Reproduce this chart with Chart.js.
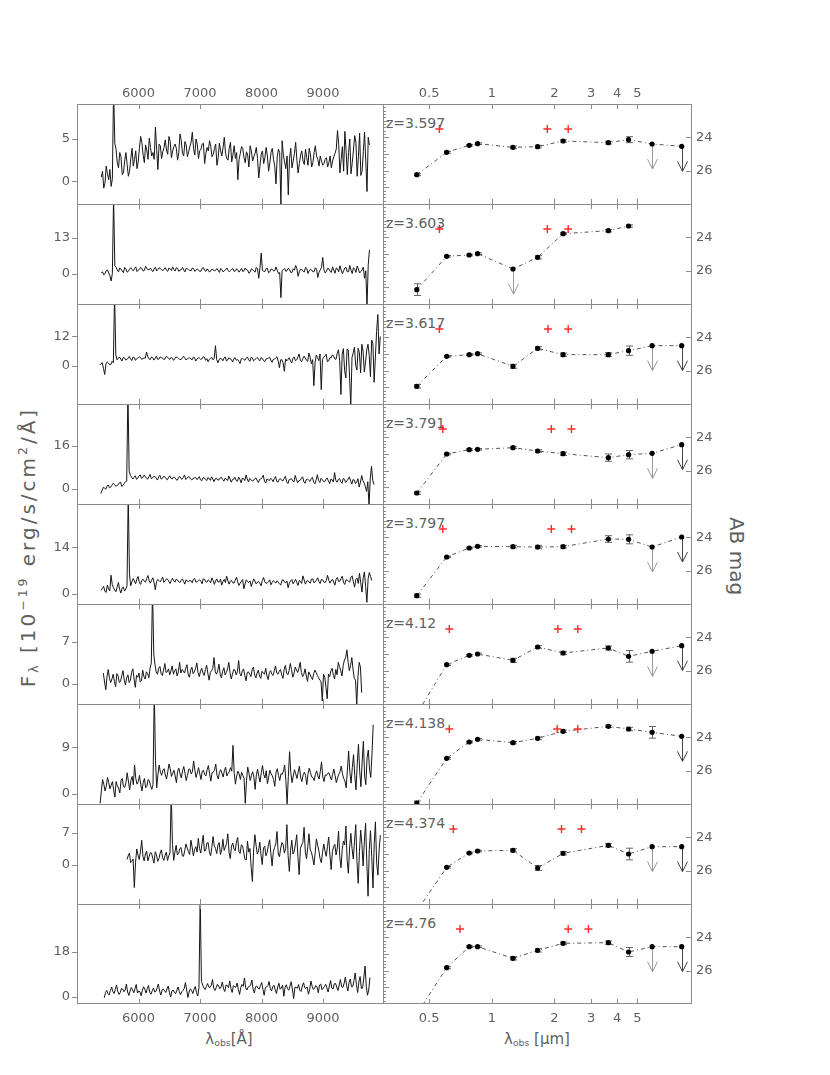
<!DOCTYPE html>
<html>
<head>
<meta charset="utf-8">
<title>Spectra and SEDs</title>
<script src="https://cdn.jsdelivr.net/npm/chart.js@4.4.1/dist/chart.umd.min.js"></script>
<style>
html,body{margin:0;padding:0;background:#fff;}
#wrap{position:relative;width:830px;height:1075px;overflow:hidden;font-family:"DejaVu Sans",sans-serif;color:#5f5f5f;}
#wrap canvas{position:absolute;z-index:2;}
.lbl{position:absolute;white-space:nowrap;z-index:1;}
.sub{font-size:0.62em;vertical-align:-0.3em;}
.sup{font-size:0.62em;vertical-align:0.65em;}
</style>
</head>
<body>
<div id="wrap"></div>
<script>
// ---------------- DATA ----------------
const Z_LABELS = ['z=3.597','z=3.603','z=3.617','z=3.791','z=3.797','z=4.12','z=4.138','z=4.374','z=4.76'];

// spectra: samples on a 40 A grid starting at SPEC_START, plus the samples lying midway (MID arrays)
const SPEC_START = [5395, 5395, 5371, 5388, 5393, 5428, 5376, 5812, 5443];
const SPEC_STEP = 40;

const SPEC_1 = [0.5,-0.8,1.8,0.2,-0.6,
 11,
 3.8,1.6,2.9,1.0,3.4,0.6,2.7,1.8,3.6,2.3,
 5.3,3.1,4.3,2.6,4.0,3.4,6.4,1.4,4.2,3.5,
 4.9,3.2,4.7,3.6,4.4,2.5,5.6,3.3,4.7,2.9,
 4.1,5.8,3.1,4.4,3.6,4.4,2.1,4.0,4.8,2.9,
 3.9,1.9,4.5,3.0,5.2,2.7,3.9,2.3,4.2,3.4,
 2.6,4.1,2.8,3.5,1.7,3.6,2.9,4.0,0.4,3.2,
 2.1,4.0,1.2,3.4,2.6,-0.3,3.8,-2.7,3.1,1.5,
 -1.6,3.9,2.4,4.6,1.0,3.1,2.4,3.8,1.9,3.2,
 2.2,4.2,2.6,3.0,1.9,2.6,1.7,3.0,2.4,3.3,
 6.0,1.0,4.1,5.9,0.8,5.0,2.2,5.4,0.6,5.7,1.2,5.8,-1.2,4.3];
const SPEC_1_MID = [1.2,-0.2,0.9,1.4,
 0.3,4.5,
 2.2,3.4,0.8,2.4,2.0,1.2,3.9,2.6,1.5,
 3.9,4.6,2.2,3.7,5.1,3.0,2.6,3.8,4.4,2.7,
 4.0,3.7,5.3,2.8,4.1,3.9,3.4,4.8,3.0,4.3,
 3.5,4.6,3.9,5.0,2.7,3.8,4.5,3.3,3.6,4.1,
 3.2,4.4,2.8,3.6,4.0,3.3,2.5,4.6,3.1,2.7,
 0.2,3.3,3.9,2.2,3.1,4.2,2.4,3.3,2.7,1.9,
 3.6,2.8,3.0,2.2,3.9,1.8,2.9,3.4,4.8,2.3,
 3.0,2.7,1.6,3.3,2.5,2.1,3.6,2.0,2.8,3.9,
 1.7,3.4,3.0,1.8,2.4,2.1,2.8,2.2,1.6,2.9,
 3.8,4.4,2.6,1.2,3.6,3.4,0.9,3.7,4.6,2.9,0.7,3.5,2.4,5.2];

const SPEC_2 = [0.5,-0.3,1.2,0.4,-2.5,
 28,
 2.5,0.8,1.8,0.5,1.9,1.0,2.3,1.2,2.6,1.4,
 2.4,1.1,2.8,1.5,2.2,0.9,2.5,1.6,2.0,1.2,
 2.3,1.0,1.9,2.6,1.1,2.1,1.4,2.4,0.8,1.9,
 1.3,2.2,1.0,1.8,0.9,2.1,1.3,1.9,0.7,1.8,
 1.1,2.0,0.6,1.6,1.2,2.2,0.8,1.7,1.0,1.9,
 0.7,2.1,1.2,1.5,0.3,1.9,1.1,2.4,-1.5,7.6,
 1.0,2.0,0.5,1.8,1.1,2.6,0.2,-8.5,1.6,1.0,
 2.1,0.6,1.9,3.1,-0.8,1.8,1.2,2.4,0.2,1.7,
 0.8,2.3,-1.2,1.5,6.0,0.4,2.1,1.0,2.6,0.3,
 1.9,3.0,0.1,2.2,0.8,3.1,0.2,1.7,2.9,0.4,1.5,-1.5,-11.5,8.7];
const SPEC_2_MID = [0.8,0.1,1.5,-0.6,
 0.2,3.0,
 1.4,2.2,1.1,2.4,0.7,1.8,1.6,2.0,0.9,
 1.7,2.0,1.3,2.1,1.6,1.3,1.9,1.1,2.3,1.5,
 1.8,1.4,2.2,1.3,1.7,2.3,1.0,1.6,1.5,2.1,
 1.6,1.2,2.0,1.4,1.5,1.1,2.3,1.0,1.4,1.2,
 1.6,1.4,1.3,2.0,0.8,1.5,1.4,1.2,2.0,1.1,
 1.5,1.3,0.9,2.2,1.4,0.8,1.6,0.7,1.9,2.4,
 1.3,0.9,2.1,0.8,1.7,1.2,1.4,0.6,1.2,2.0,
 1.3,1.6,0.6,1.4,2.0,0.9,1.6,0.7,2.1,1.2,
 1.5,0.9,1.8,0.7,2.4,1.6,1.0,1.9,0.6,1.4,
 2.2,0.8,1.5,1.2,2.4,0.9,1.4,2.3,0.6,1.8,0.9,2.5,1.2,3.4];

const SPEC_3 = [0.3,1.2,-3.6,1.6,0.4,1.8,
 30,
 2.4,3.6,1.9,3.2,2.5,3.8,2.1,3.4,2.9,3.7,
 2.6,3.2,5.6,2.8,3.6,2.3,3.9,2.7,3.3,2.5,
 3.8,2.9,3.4,2.2,3.6,3.0,2.6,3.9,2.4,3.1,
 2.8,3.5,1.9,3.3,2.6,3.7,2.2,1.6,3.0,2.4,
 8.2,
 1.2,3.1,2.0,3.6,2.4,2.8,1.5,3.3,2.6,0.9,
 3.0,2.2,3.6,1.8,3.2,2.5,3.4,2.0,3.1,1.6,
 2.9,3.5,1.4,2.7,3.7,-0.8,2.5,-2.3,2.0,3.3,
 1.1,3.6,2.4,4.8,1.6,3.9,2.2,5.2,0.8,-8.2,
 4.4,2.1,-9.8,3.5,4.7,2.0,3.2,4.1,2.6,6.5,
 -11.8,7.0,-5.0,6.4,-17,5.3,0.2,7.2,-3.0,6.0,
 1.5,8.8,-4.5,9.0,3.5,21,12];
const SPEC_3_MID = [0.9,-1.2,0.8,1.1,0.5,
 1.2,4.5,
 3.0,2.7,3.3,2.4,3.1,2.8,3.5,2.2,3.2,
 3.4,2.9,3.1,3.7,2.5,3.3,3.0,2.6,3.6,3.2,
 2.8,3.5,2.6,3.1,2.9,3.4,2.5,3.0,3.3,2.7,
 3.2,2.4,3.3,2.7,3.1,2.8,3.5,2.9,2.6,3.4,
 3.0,2.6,
 2.4,2.8,3.2,1.9,3.3,2.5,2.9,2.2,1.8,2.8,
 2.6,3.1,2.4,3.4,2.0,2.9,2.6,3.3,2.2,2.7,
 3.1,2.3,2.6,3.2,1.9,2.4,1.2,2.8,2.6,1.9,
 3.0,2.0,3.5,2.2,2.9,3.1,1.8,3.4,2.5,1.4,
 3.3,4.8,2.6,3.9,1.6,3.3,4.4,2.8,5.1,2.0,
 4.6,-2.0,6.8,-4.2,3.4,7.6,-1.8,5.3,8.8,-2.6,
 6.6,4.2,10.5,-6.8,14,4.8];

const SPEC_4 = [-1.8,0.5,-0.2,1.4,0.6,2.0,0.9,1.5,2.4,1.2,2.6,
 36,
 5.0,3.6,4.8,3.9,5.2,4.1,4.6,3.5,5.3,4.0,
 4.5,3.2,5.0,3.8,4.4,3.3,4.8,3.6,4.2,3.1,
 4.6,3.5,5.1,3.9,4.3,3.2,4.0,3.4,4.5,2.9,
 4.1,3.0,3.8,4.4,2.6,3.9,3.3,4.2,2.8,3.6,
 4.7,2.4,3.5,3.0,4.3,2.2,3.8,5.1,2.5,3.4,
 3.0,4.0,2.3,3.6,5.0,2.1,3.3,3.9,2.6,4.5,
 2.4,3.7,2.9,4.6,1.9,3.5,2.8,4.9,2.2,3.1,
 4.4,2.0,3.6,2.7,4.2,1.8,5.2,2.3,3.4,2.6,
 4.0,1.9,3.3,6.0,2.4,3.8,2.0,3.5,2.9,4.4,
 1.7,3.2,2.5,0.6,4.9,2.1,-1.0,-6.5,8.3,1.5];
const SPEC_4_MID = [-0.6,0.2,0.9,0.3,1.3,1.6,1.1,2.2,0.8,1.9,
 2.8,6.5,
 4.3,4.2,3.5,4.7,3.8,5.0,3.9,4.4,3.7,4.6,
 3.9,4.4,3.6,4.6,3.7,4.1,3.9,4.3,3.5,4.0,
 3.8,4.2,3.4,4.5,3.6,3.9,4.2,3.7,3.3,4.0,
 3.5,4.1,3.1,3.6,3.7,3.2,4.0,3.4,3.9,3.0,
 3.6,3.4,4.2,2.7,3.5,3.9,3.0,3.6,3.8,2.9,
 3.7,3.1,3.4,4.1,2.8,3.6,3.0,3.4,3.8,2.7,
 3.5,3.1,3.8,2.6,3.3,3.7,2.5,3.4,3.0,3.9,
 2.6,3.4,3.1,3.8,2.4,3.3,3.0,3.9,2.7,3.5,
 2.8,3.6,2.5,3.1,3.4,2.6,3.8,2.3,3.6,2.9,
 3.4,1.9,3.7,2.4,3.0,0.8,2.6,3.9,3.2];

const SPEC_5 = [1.0,2.2,0.4,1.5,5.6,1.8,0.6,3.4,0.2,2.0,1.4,
 30,
 2.4,4.6,3.0,5.2,2.8,4.4,3.5,5.5,3.2,4.8,
 1.2,4.3,3.6,5.0,3.9,4.4,3.1,4.7,3.5,4.2,
 3.4,4.5,2.9,3.8,4.1,3.3,4.6,3.6,4.2,3.0,
 4.4,3.5,3.9,4.8,2.8,4.5,3.6,2.6,4.3,5.3,
 2.9,4.0,3.2,5.0,2.5,3.8,1.5,4.2,3.4,2.2,
 4.5,3.0,3.7,2.4,4.9,3.1,3.6,2.7,4.0,3.2,
 3.5,2.6,4.2,3.3,1.8,3.9,3.0,4.4,2.5,3.7,
 5.4,2.9,4.0,3.2,4.5,3.6,4.8,3.1,4.2,3.4,
 5.6,3.2,4.4,2.6,4.9,3.8,5.3,2.8,4.1,3.5,
 5.4,2.0,4.7,6.2,0.5,6.6,-2.6,6.4,4.0];
const SPEC_5_MID = [1.6,0.8,2.6,0.9,2.8,1.1,2.0,1.3,1.7,0.8,
 2.4,6.0,
 3.6,3.9,4.4,3.5,4.0,3.8,4.6,3.9,4.1,3.4,
 3.6,4.0,4.3,3.4,4.5,3.7,4.0,3.9,4.4,3.6,
 4.0,3.7,4.2,3.6,3.9,4.4,3.5,4.0,3.8,4.5,
 3.6,4.2,3.3,4.0,3.9,3.5,4.4,3.7,3.4,3.9,
 3.8,3.3,4.1,3.6,3.2,4.3,3.0,3.7,3.9,3.3,
 3.8,3.5,3.1,4.0,3.6,3.3,4.2,3.4,3.6,3.9,
 3.0,4.1,3.5,3.8,3.2,4.3,3.6,3.4,4.0,3.1,
 4.2,3.8,3.5,4.4,3.3,4.1,3.7,4.3,3.5,4.0,
 4.1,3.9,3.5,4.4,3.7,4.6,3.4,4.2,3.8,4.9,
 3.6,4.3,3.1,3.4,4.8,2.1,4.5,5.2];

const SPEC_6 = [1.8,-1.0,2.4,0.2,1.6,-0.5,1.3,0.4,2.2,-0.2,
 1.5,0.6,2.5,-0.6,1.1,0.3,2.3,0.8,1.7,2.6,
 16,
 3.2,1.6,2.9,1.4,3.4,2.0,1.5,3.0,2.2,1.3,
 3.6,2.4,1.8,3.2,1.1,2.8,2.0,3.5,1.2,2.6,
 1.4,3.1,0.6,2.2,4.4,1.6,3.3,1.0,2.7,1.9,
 3.6,0.8,2.4,1.5,3.9,1.3,2.5,0.5,2.0,1.2,
 2.8,1.0,2.3,0.9,1.8,2.6,0.7,2.2,1.4,3.0,
 1.6,2.4,0.9,3.1,1.5,3.4,1.1,2.8,1.9,3.6,
 1.2,2.5,0.4,1.6,0.7,2.3,1.4,0.6,-2.9,1.1,
 -2.5,1.2,2.6,0.8,1.5,2.9,1.3,4.0,5.7,2.2,
 4.4,0.9,-3.5,3.6,-1.5];
const SPEC_6_MID = [0.3,1.2,0.9,0.8,0.4,1.7,0.2,1.4,0.6,1.0,
 0.2,1.9,0.8,1.4,1.8,0.5,1.2,2.0,1.0,
 3.5,5.0,
 2.0,2.6,1.7,2.3,1.9,2.5,2.2,1.6,2.5,2.0,
 1.8,2.2,2.6,1.5,2.3,1.7,2.6,1.9,2.1,1.8,
 2.4,1.7,1.9,2.6,2.0,2.2,1.6,2.1,1.5,2.5,
 1.9,1.6,2.3,2.0,1.7,2.2,1.4,1.9,1.6,2.4,
 1.5,1.8,1.3,2.1,1.6,1.3,1.9,1.6,2.2,1.8,
 2.1,1.5,2.4,1.8,2.2,2.4,1.7,2.3,2.6,1.9,
 1.6,1.3,2.0,1.1,1.7,1.9,1.0,0.4,1.6,-0.6,
 1.6,2.2,1.4,2.4,3.6,2.2,3.1,4.4,3.6,3.1,
 2.4,0.6,1.2,2.8];

const SPEC_7 = [-1.8,2.8,0.6,3.2,1.0,2.4,-0.6,1.6,0.2,3.0,
 1.3,4.1,0.8,3.4,5.6,1.9,3.6,0.6,3.0,1.5,2.6,0.9,
 20,
 1.2,5.6,3.6,4.9,2.9,5.8,3.4,4.6,2.2,5.0,
 3.1,5.3,2.6,4.8,3.9,6.4,3.2,5.1,2.8,4.6,
 3.5,5.5,2.5,4.2,5.8,2.9,4.7,3.3,5.2,4.0,
 5.1,9.4,1.9,4.4,2.8,3.6,-1.8,5.2,2.6,4.3,
 0.9,4.8,2.3,5.5,3.1,2.0,4.6,3.5,1.5,4.9,
 2.6,3.8,5.6,-1.9,8.2,2.2,4.7,3.0,5.4,2.4,
 4.2,1.8,5.0,3.3,2.6,4.5,2.9,6.2,2.4,3.6,
 4.1,2.7,4.8,2.2,3.8,5.4,3.0,1.2,8.3,2.1,
 7.6,0.8,9.6,1.4,10.2,1.8,8.5,3.2,13.4];
const SPEC_7_MID = [0.6,1.9,1.5,2.2,1.7,0.8,2.4,1.1,2.6,1.4,
 2.2,2.5,2.6,1.8,3.0,2.4,1.9,2.2,1.2,2.8,1.6,
 1.8,6.5,
 3.8,4.2,4.6,3.7,4.3,4.9,4.0,3.5,4.4,3.9,
 4.5,4.0,3.6,4.8,4.3,4.6,4.1,3.9,4.4,3.8,
 4.7,3.9,4.1,4.6,3.6,4.2,4.0,4.5,3.5,4.3,
 4.4,4.0,3.5,3.9,4.2,3.0,2.6,4.0,3.6,3.2,
 3.7,3.4,4.1,3.8,4.5,3.3,3.9,2.8,4.2,3.6,
 3.9,4.4,2.6,3.4,4.1,3.5,3.9,4.2,3.2,3.7,
 3.6,3.9,4.1,3.2,3.8,3.5,4.4,3.3,3.7,4.0,
 3.4,3.8,3.6,3.1,4.3,3.9,2.5,4.6,4.2,5.1,
 3.6,5.8,4.4,6.2,3.5,7.0,4.8,7.8];

const SPEC_8 = [1.2,2.6,0.8,-4.9,3.5,1.2,5.4,0.9,3.0,1.8,
 2.6,0.4,2.2,1.4,3.3,1.0,2.8,2.0,
 16,
 1.0,4.3,2.5,3.8,1.9,4.6,2.9,5.4,2.0,4.0,
 5.8,2.6,6.5,3.2,4.9,2.0,6.2,3.6,4.4,2.3,
 5.6,3.9,6.8,1.4,4.8,3.1,6.0,2.5,4.2,1.2,
 5.2,3.6,-3.6,6.6,2.4,5.0,0.1,4.1,2.7,5.5,
 -0.2,3.8,7.3,1.8,4.9,2.6,8.8,-1.4,5.4,3.0,
 6.6,-2.1,4.4,8.2,1.4,6.8,2.8,0.0,5.7,3.1,
 0.5,4.6,1.9,6.1,-1.0,4.0,2.2,7.4,-0.6,5.2,
 8.5,-1.8,6.9,1.3,8.8,-4.0,7.6,-0.2,9.1,-6.8,
 7.5,-5.0,9.4,-2.2,6.5];
const SPEC_8_MID = [2.0,0.5,1.3,0.6,2.2,3.0,1.9,2.4,0.9,2.7,
 1.4,2.9,0.8,2.6,1.6,2.1,1.0,
 2.6,4.5,
 2.8,2.2,3.6,2.0,3.2,3.7,2.3,3.9,3.4,2.8,
 3.6,4.6,3.0,4.8,2.9,3.8,4.2,2.5,4.9,3.3,
 3.2,4.7,2.8,4.1,3.5,5.0,3.0,4.4,2.6,1.1,
 2.8,-0.6,3.3,4.2,3.1,2.2,3.8,2.0,4.4,2.6,
 2.9,4.6,2.4,3.7,4.4,3.6,2.1,3.2,2.4,4.6,
 1.8,3.6,4.9,2.8,4.0,3.3,1.5,2.6,4.3,1.4,
 2.7,3.1,4.0,2.2,2.9,4.5,3.7,1.8,3.4,4.4,
 1.0,3.7,3.6,5.2,0.8,2.9,4.5,5.2,0.6,3.4,
 1.8,4.6,0.4,3.3];

const SPEC_9 = [-0.5,2.4,0.6,3.8,1.2,4.6,0.8,3.2,1.9,5.0,
 0.4,3.6,1.5,4.8,2.2,0.3,3.9,1.4,4.4,0.9,
 3.4,2.0,5.0,0.6,3.0,1.6,4.2,-0.2,2.6,1.1,
 3.8,0.7,2.4,5.6,-0.4,3.1,1.2,4.0,0.2,
 40,
 4.6,2.8,5.2,3.6,6.8,2.4,4.9,3.1,5.8,2.0,
 4.4,6.2,1.6,3.9,5.4,0.8,4.8,7.4,2.6,4.0,
 6.6,1.4,4.2,3.0,5.6,0.5,3.8,6.0,2.2,4.5,
 1.2,5.3,3.4,0.1,4.7,2.5,5.9,-0.8,3.6,4.8,
 2.0,5.5,3.2,0.9,6.2,2.8,4.4,1.5,5.0,3.3,
 4.9,1.8,6.4,3.0,5.2,2.4,6.8,3.6,7.8,2.2,
 7.0,4.0,9.4,1.6,8.0,3.4,12.2,0.5,7.6];
const SPEC_9_MID = [1.5,1.2,2.4,2.0,2.8,2.1,1.6,3.0,2.6,1.8,
 2.2,2.7,3.1,1.4,1.9,2.5,2.8,3.2,1.6,2.3,
 1.8,3.5,2.1,2.6,2.3,3.0,1.5,2.2,1.7,2.5,
 2.0,1.9,3.2,2.6,1.8,2.4,2.9,1.6,
 3.6,6.0,
 3.4,4.0,3.8,4.5,3.3,3.6,4.2,3.9,3.1,4.6,
 3.5,3.2,4.4,3.7,2.9,3.6,4.1,3.4,3.8,4.6,
 3.0,3.9,3.3,4.4,2.8,3.6,4.3,3.1,3.9,2.7,
 3.8,2.9,4.5,3.6,3.1,4.2,2.6,3.7,3.3,2.5,
 4.2,3.5,3.8,2.9,4.1,3.4,3.8,4.6,2.7,4.0,
 3.5,4.2,3.4,5.1,3.8,4.6,3.9,5.3,4.4,5.6,
 3.9,6.4,4.8,5.8,3.2,7.4,4.1,2.6];

// left-panel flux axis limits and labelled tick
const SPEC_YMIN = [-2.67, -10.8, -15.7, -5.7, -3.1, -3.4, -1.93, -8.5, -3.0];
const SPEC_YMAX = [9.13, 25.3, 25.3, 31.5, 27.1, 13.4, 17.4, 13.3, 37.0];
const SPEC_YTICK = [5, 13, 12, 16, 14, 7, 9, 7, 18];
const WAVE_MIN = 5000, WAVE_MAX = 9975;
const WAVE_TICKS = [6000, 7000, 8000, 9000];

// photometry: filter wavelengths (micron) and AB magnitudes
const FILTER_UM = [0.436, 0.607, 0.779, 0.854, 1.264, 1.66, 2.2, 3.63, 4.54, 5.89, 8.17];

const MAG_1 = [26.24, 24.90, 24.48, 24.38, 24.60, 24.56, 24.22, 24.32, 24.14, 24.40, 24.54];
const ERR_1 = [0.06, 0.06, 0.05, 0.05, 0.08, 0.08, 0.07, 0.08, 0.18, 0, 0];
const LIM_1 = [0,0,0,0,0,0,0,0,0,1,1];

const MAG_2 = [27.14, 25.14, 25.06, 24.98, 25.90, 25.20, 23.78, 23.60, 23.32, null, null];
const ERR_2 = [0.35, 0.05, 0.05, 0.05, 0, 0.1, 0.06, 0.07, 0.07, 0, 0];
const LIM_2 = [0,0,0,0,1,0,0,0,0,0,0];

const MAG_3 = [26.94, 25.14, 25.04, 24.98, 25.74, 24.66, 25.04, 25.04, 24.80, 24.50, 24.50];
const ERR_3 = [0.1, 0.05, 0.05, 0.05, 0.12, 0.1, 0.1, 0.12, 0.28, 0, 0];
const LIM_3 = [0,0,0,0,0,0,0,0,0,1,1];

const MAG_4 = [27.34, 25.00, 24.74, 24.72, 24.62, 24.82, 24.98, 25.22, 25.04, 24.96, 24.44];
const ERR_4 = [0.08, 0.05, 0.05, 0.05, 0.06, 0.08, 0.1, 0.22, 0.25, 0, 0];
const LIM_4 = [0,0,0,0,0,0,0,0,0,1,1];

const MAG_5 = [27.50, 25.18, 24.64, 24.54, 24.56, 24.58, 24.56, 24.10, 24.12, 24.58, 23.98];
const ERR_5 = [0.1, 0.04, 0.05, 0.05, 0.08, 0.1, 0.08, 0.2, 0.27, 0, 0];
const LIM_5 = [0,0,0,0,0,0,0,0,0,1,1];

const MAG_6 = [28.6, 25.64, 25.08, 25.00, 25.38, 24.58, 24.94, 24.64, 25.14, 24.84, 24.50];
const ERR_6 = [0.1, 0.05, 0.05, 0.05, 0.12, 0.08, 0.1, 0.12, 0.35, 0, 0];
const LIM_6 = [0,0,0,0,0,0,0,0,0,1,1];

const MAG_7 = [27.94, 25.26, 24.28, 24.12, 24.32, 24.06, 23.64, 23.34, 23.50, 23.70, 23.94];
const ERR_7 = [0.12, 0.05, 0.05, 0.05, 0.07, 0.08, 0.08, 0.07, 0.1, 0.35, 0];
const LIM_7 = [0,0,0,0,0,0,0,0,0,0,1];

const MAG_8 = [28.42, 25.80, 24.94, 24.82, 24.78, 25.84, 24.96, 24.48, 25.00, 24.56, 24.56];
const ERR_8 = [0.1, 0.05, 0.05, 0.05, 0.1, 0.15, 0.1, 0.1, 0.35, 0, 0];
const LIM_8 = [0,0,0,0,0,0,0,0,0,1,1];

const MAG_9 = [28.6, 25.82, 24.56, 24.56, 25.26, 24.78, 24.36, 24.32, 24.88, 24.56, 24.56];
const ERR_9 = [0.1, 0.06, 0.05, 0.05, 0.1, 0.1, 0.08, 0.1, 0.27, 0, 0];
const LIM_9 = [0,0,0,0,0,0,0,0,0,1,1];

// red crosses: redshifted line / break positions (micron), plotted at a fixed magnitude
const MARK_UM_1 = [0.560, 1.848, 2.328];
const MARK_UM_2 = [0.560, 1.848, 2.328];
const MARK_UM_3 = [0.560, 1.860, 2.328];
const MARK_UM_4 = [0.581, 1.931, 2.414];
const MARK_UM_5 = [0.581, 1.931, 2.414];
const MARK_UM_6 = [0.625, 2.076, 2.588];
const MARK_UM_7 = [0.625, 2.062, 2.588];
const MARK_UM_8 = [0.653, 2.162, 2.696];
const MARK_UM_9 = [0.703, 2.328, 2.912];
const MARK_MAG = 23.5;

const UM_MIN = 0.3043, UM_MAX = 9.157;
const UM_TICKS = [0.5, 1, 2, 3, 4, 5];
const MAG_MIN = 22, MAG_MAX = 28;
const MAG_TICKS = [24, 26];
const ARROW_MAG = 1.5;

// ---------------- BUILD ----------------
const SPECTRA = [SPEC_1,SPEC_2,SPEC_3,SPEC_4,SPEC_5,SPEC_6,SPEC_7,SPEC_8,SPEC_9];
const SPECTRA_MID = [SPEC_1_MID,SPEC_2_MID,SPEC_3_MID,SPEC_4_MID,SPEC_5_MID,SPEC_6_MID,SPEC_7_MID,SPEC_8_MID,SPEC_9_MID];
const MAGS = [MAG_1,MAG_2,MAG_3,MAG_4,MAG_5,MAG_6,MAG_7,MAG_8,MAG_9];
const ERRS = [ERR_1,ERR_2,ERR_3,ERR_4,ERR_5,ERR_6,ERR_7,ERR_8,ERR_9];
const LIMS = [LIM_1,LIM_2,LIM_3,LIM_4,LIM_5,LIM_6,LIM_7,LIM_8,LIM_9];
const MARKS = [MARK_UM_1,MARK_UM_2,MARK_UM_3,MARK_UM_4,MARK_UM_5,MARK_UM_6,MARK_UM_7,MARK_UM_8,MARK_UM_9];

const G = {left: 77, mid: 383, right: 692, top: 104, rowH: 100, axisTop: 24, axisBot: 40, rightLbl: 60};
const FONT = {family: 'DejaVu Sans', size: 13};
const TXT = '#5f5f5f';
const FRAME = '#8a8a8a';

const wrap = document.getElementById('wrap');
function makeCanvas(left, top, w, h) {
  const c = document.createElement('canvas');
  c.width = w; c.height = h;
  c.style.left = left + 'px'; c.style.top = top + 'px';
  c.style.width = w + 'px'; c.style.height = h + 'px';
  wrap.appendChild(c);
  return c;
}
function addLabel(html, css) {
  const d = document.createElement('div');
  d.className = 'lbl';
  d.innerHTML = html;
  Object.assign(d.style, css);
  wrap.appendChild(d);
  return d;
}

function xAxis(type, min, max, ticks, first, last) {
  const shown = first || last;
  return {
    type, min, max, display: shown, position: first ? 'top' : 'bottom',
    afterBuildTicks: s => { s.ticks = ticks.map(v => ({value: v})); },
    afterFit: s => { if (shown) s.height = first ? G.axisTop : G.axisBot; s.paddingLeft = 0; s.paddingRight = 0; },
    ticks: {autoSkip: false, maxRotation: 0, minRotation: 0, padding: first ? 3 : 7, font: FONT, color: TXT, callback: v => String(v)},
    grid: {display: false, drawTicks: false},
    border: {display: false}
  };
}

function seg(ctx, x1, y1, x2, y2) { ctx.moveTo(x1, y1); ctx.lineTo(x2, y2); }

const specDecor = {
  id: 'specDecor',
  afterDraw(chart, args, o) {
    const {ctx, chartArea: a, scales: {x, y}} = chart;
    ctx.save();
    ctx.strokeStyle = FRAME; ctx.lineWidth = 1;
    ctx.beginPath();
    seg(ctx, a.left + 0.5, a.top, a.left + 0.5, a.bottom);
    seg(ctx, a.left, a.top + 0.5, a.right, a.top + 0.5);
    if (o.last) seg(ctx, a.left, a.bottom - 0.5, a.right, a.bottom - 0.5);
    WAVE_TICKS.forEach(v => {
      const p = Math.round(x.getPixelForValue(v)) + 0.5;
      seg(ctx, p, a.top, p, a.top + 5);
      seg(ctx, p, a.bottom, p, a.bottom - 5);
    });
    o.yticks.forEach(v => {
      const p = Math.round(y.getPixelForValue(v)) + 0.5;
      seg(ctx, a.left - 5, p, a.left, p);
    });
    ctx.stroke();
    ctx.restore();
  }
};

const sedDecor = {
  id: 'sedDecor',
  beforeDatasetsDraw(chart, args, o) {
    const {ctx, chartArea: a, scales: {x, y}} = chart;
    ctx.save();
    ctx.beginPath(); ctx.rect(a.left, a.top, a.right - a.left, a.bottom - a.top); ctx.clip();
    ctx.lineWidth = 1;
    o.mag.forEach((m, k) => {
      if (m === null) return;
      const px = Math.round(x.getPixelForValue(FILTER_UM[k])) + 0.5;
      if (o.lim[k]) {
        const y0 = y.getPixelForValue(m), y1 = y.getPixelForValue(m + ARROW_MAG);
        ctx.strokeStyle = k === 10 ? '#444' : '#999';
        ctx.beginPath();
        seg(ctx, px, y0, px, y1);
        ctx.moveTo(px - 5, y1 - 10); ctx.lineTo(px, y1); ctx.lineTo(px + 5, y1 - 10);
        ctx.stroke();
      } else if (o.err[k] > 0) {
        const yt = y.getPixelForValue(m - o.err[k]), yb = y.getPixelForValue(m + o.err[k]);
        ctx.strokeStyle = '#666';
        ctx.beginPath();
        seg(ctx, px, yt, px, yb);
        seg(ctx, px - 3.5, yt, px + 3.5, yt);
        seg(ctx, px - 3.5, yb, px + 3.5, yb);
        ctx.stroke();
      }
    });
    ctx.restore();
  },
  afterDraw(chart, args, o) {
    const {ctx, chartArea: a, scales: {x, y}} = chart;
    ctx.save();
    ctx.strokeStyle = FRAME; ctx.lineWidth = 1;
    ctx.beginPath();
    seg(ctx, a.left + 0.5, a.top, a.left + 0.5, a.bottom);
    seg(ctx, a.right - 0.5, a.top, a.right - 0.5, a.bottom);
    seg(ctx, a.left, a.top + 0.5, a.right, a.top + 0.5);
    if (o.last) seg(ctx, a.left, a.bottom - 0.5, a.right, a.bottom - 0.5);
    UM_TICKS.forEach(v => {
      const p = Math.round(x.getPixelForValue(v)) + 0.5;
      seg(ctx, p, a.top, p, a.top + 5);
      seg(ctx, p, a.bottom, p, a.bottom - 5);
    });
    MAG_TICKS.forEach(v => {
      const p = Math.round(y.getPixelForValue(v)) + 0.5;
      seg(ctx, a.right - 6, p, a.right, p);
    });
    for (let k = 1; k < 30; k++) {
      const p = Math.round(y.getPixelForValue(MAG_MIN + k * 0.2)) + 0.5;
      seg(ctx, a.left, p, a.left + (k % 5 === 0 ? 6 : 3), p);
    }
    ctx.stroke();
    ctx.restore();
  }
};

const common = {
  responsive: false, animation: false, devicePixelRatio: 1, events: [],
  layout: {padding: 0, autoPadding: false}
};

for (let i = 0; i < 9; i++) {
  const first = i === 0, last = i === 8;
  const rowTop = G.top + i * G.rowH;
  const eTop = first ? G.axisTop : 0, eBot = last ? G.axisBot : 0;
  const H = G.rowH + eTop + eBot;

  // ---- left: spectrum (grid samples interleaved with the midway samples) ----
  const cL = makeCanvas(0, rowTop - eTop, G.mid, H);
  const specData = [];
  SPECTRA[i].forEach((f, k) => {
    specData.push({x: SPEC_START[i] + k * SPEC_STEP, y: f});
    if (k < SPECTRA_MID[i].length) specData.push({x: SPEC_START[i] + k * SPEC_STEP + SPEC_STEP / 2, y: SPECTRA_MID[i][k]});
  });
  new Chart(cL, {
    type: 'line',
    data: {datasets: [{data: specData, borderColor: '#151515', borderWidth: 1, pointRadius: 0, tension: 0}]},
    options: Object.assign({}, common, {
      plugins: {legend: {display: false}, tooltip: {enabled: false}, specDecor: {last, yticks: [0, SPEC_YTICK[i]]}},
      scales: {
        x: xAxis('linear', WAVE_MIN, WAVE_MAX, WAVE_TICKS, first, last),
        y: {
          type: 'linear', position: 'left', min: SPEC_YMIN[i], max: SPEC_YMAX[i],
          afterBuildTicks: s => { s.ticks = [0, SPEC_YTICK[i]].map(v => ({value: v})); },
          afterFit: s => { s.width = G.left; s.paddingTop = 0; s.paddingBottom = 0; },
          ticks: {padding: 7, font: FONT, color: TXT, callback: v => String(v)},
          grid: {display: false, drawTicks: false}, border: {display: false}
        }
      }
    }),
    plugins: [specDecor]
  });

  // ---- right: photometry ----
  const wR = G.right - G.mid + G.rightLbl;
  const cR = makeCanvas(G.mid, rowTop - eTop, wR, H);
  const sed = FILTER_UM.map((w, k) => ({x: w, y: MAGS[i][k]}));
  const marks = MARKS[i].map(w => ({x: w, y: MARK_MAG}));
  new Chart(cR, {
    type: 'line',
    data: {datasets: [
      {data: marks, showLine: false, pointStyle: 'cross', pointRadius: 4, pointBorderWidth: 1.4, borderWidth: 1.4, borderColor: '#ff2b2b', backgroundColor: '#ff2b2b'},
      {data: sed, borderColor: '#555', borderWidth: 1, borderDash: [4, 3, 1, 3], pointRadius: 2.6, pointBorderWidth: 0, pointBackgroundColor: '#000', pointBorderColor: '#000', tension: 0, spanGaps: false}
    ]},
    options: Object.assign({}, common, {
      plugins: {legend: {display: false}, tooltip: {enabled: false}, sedDecor: {last, mag: MAGS[i], err: ERRS[i], lim: LIMS[i]}},
      scales: {
        x: xAxis('logarithmic', UM_MIN, UM_MAX, UM_TICKS, first, last),
        y: {
          type: 'linear', position: 'right', reverse: true, min: MAG_MIN, max: MAG_MAX,
          afterBuildTicks: s => { s.ticks = MAG_TICKS.map(v => ({value: v})); },
          afterFit: s => { s.width = G.rightLbl; s.paddingTop = 0; s.paddingBottom = 0; },
          ticks: {padding: 4, font: FONT, color: TXT, callback: v => String(v)},
          grid: {display: false, drawTicks: false}, border: {display: false}
        }
      }
    }),
    plugins: [sedDecor]
  });

  addLabel(Z_LABELS[i], {left: '386px', top: (rowTop + 11) + 'px', fontSize: '14px', lineHeight: '17px'});
}

// axis titles
addLabel('F<span class="sub">λ</span> [10<span class="sup">−19</span> erg/s/cm<span class="sup">2</span>/Å]',
  {left: '28px', top: '547px', fontSize: '20px', letterSpacing: '3px', transform: 'translate(-50%,-50%) rotate(-90deg)'});
addLabel('AB mag', {left: '737px', top: '556px', fontSize: '20px', transform: 'translate(-50%,-50%) rotate(90deg)'});
addLabel('λ<span class="sub">obs</span>[Å]', {left: '229px', top: '1039px', fontSize: '15px', transform: 'translate(-50%,-50%)'});
addLabel('λ<span class="sub">obs</span> [μm]', {left: '537px', top: '1039px', fontSize: '15px', transform: 'translate(-50%,-50%)'});
</script>
</body>
</html>
